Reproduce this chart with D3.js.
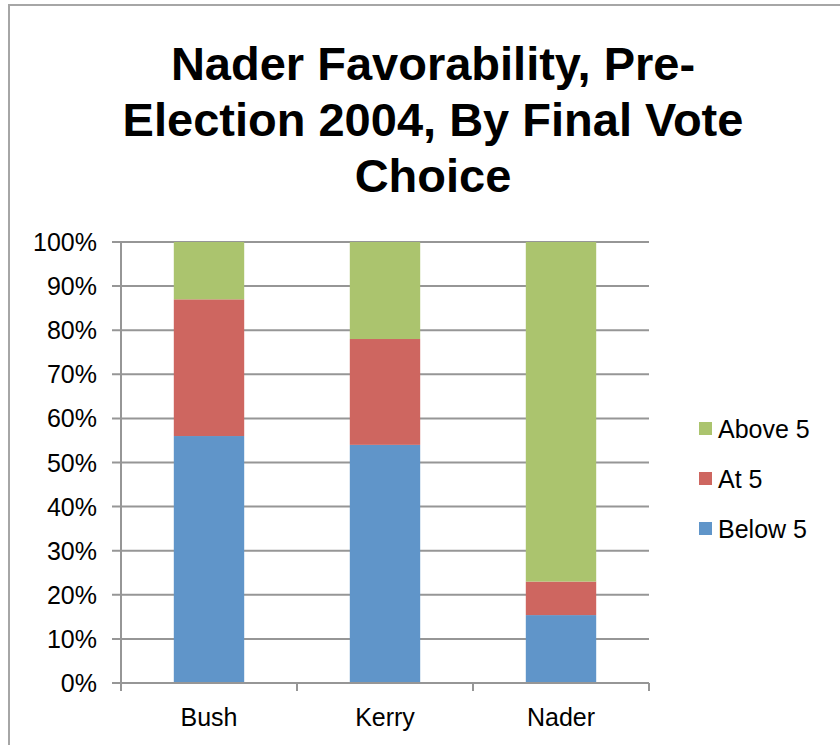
<!DOCTYPE html>
<html>
<head>
<meta charset="utf-8">
<script src="https://cdn.jsdelivr.net/npm/d3@7"></script>
<style>
  html, body { margin: 0; padding: 0; background: #fff; }
  svg { display: block; font-family: "Liberation Sans", Arial, sans-serif; }
</style>
</head>
<body>
<svg id="chart" width="840" height="745"></svg>
<script>
// Vote choice groups along the x axis
const categories = ["Bush", "Kerry", "Nader"];
// Share of each group rating Nader below, at, or above 5 (percent)
const below5 = [56, 54, 15.4];
const at5    = [31, 24, 7.6];
const above5 = [13, 22, 77];
const seriesNames = ["Below 5", "At 5", "Above 5"];
const seriesColors = ["#6095c9", "#ce6660", "#abc46e"];
const yTicks = [0, 10, 20, 30, 40, 50, 60, 70, 80, 90, 100];
const titleLines = ["Nader Favorability, Pre-", "Election 2004, By Final Vote", "Choice"];

const rows = categories.map((c, i) => ({
  cat: c, "Below 5": below5[i], "At 5": at5[i], "Above 5": above5[i]
}));

const svg = d3.select("#chart");
const grid = "#969696";

// Outer chart frame
svg.append("rect")
  .attr("x", 9).attr("y", 5).attr("width", 860).attr("height", 760)
  .attr("fill", "none").attr("stroke", "#a6a6a6").attr("stroke-width", 2);

// Title
svg.append("g").selectAll("text").data(titleLines).join("text")
  .attr("x", 433).attr("y", (d, i) => 80 + i * 56)
  .attr("text-anchor", "middle")
  .attr("font-size", 47).attr("font-weight", "bold").attr("fill", "#000")
  .text(d => d);

const plot = { left: 121, right: 649, top: 242, bottom: 683 };

const x = d3.scaleBand().domain(categories)
  .range([plot.left, plot.right]).paddingInner(0.6).paddingOuter(0.3);
const xOuter = d3.scaleBand().domain(categories).range([plot.left, plot.right]);
const y = d3.scaleLinear().domain([0, 100]).range([plot.bottom, plot.top]);

// Horizontal gridlines with tick marks to the left of the axis
svg.append("g").selectAll("line").data(yTicks).join("line")
  .attr("x1", plot.left - 9).attr("x2", plot.right)
  .attr("y1", d => y(d)).attr("y2", d => y(d))
  .attr("stroke", grid).attr("stroke-width", 2);

// Y axis labels
svg.append("g").selectAll("text").data(yTicks).join("text")
  .attr("x", 97).attr("y", d => y(d)).attr("dy", "0.36em")
  .attr("text-anchor", "end").attr("font-size", 25).attr("fill", "#000")
  .text(d => d + "%");

// Stacked bars
const stack = d3.stack().keys(seriesNames)(rows);
svg.append("g").selectAll("g").data(stack).join("g")
  .attr("fill", (d, i) => seriesColors[i])
  .selectAll("rect").data(d => d).join("rect")
  .attr("x", d => x(d.data.cat))
  .attr("width", x.bandwidth())
  .attr("y", d => y(d[1]))
  .attr("height", d => y(d[0]) - y(d[1]));

// Axis lines
svg.append("line")
  .attr("x1", plot.left).attr("x2", plot.left)
  .attr("y1", plot.top).attr("y2", plot.bottom + 8)
  .attr("stroke", grid).attr("stroke-width", 2);
svg.append("line")
  .attr("x1", plot.left - 9).attr("x2", plot.right)
  .attr("y1", plot.bottom).attr("y2", plot.bottom)
  .attr("stroke", grid).attr("stroke-width", 2);

// Category boundary ticks below the x axis
const boundaries = categories.map(c => xOuter(c)).concat([plot.right]);
svg.append("g").selectAll("line").data(boundaries).join("line")
  .attr("x1", d => d).attr("x2", d => d)
  .attr("y1", plot.bottom).attr("y2", plot.bottom + 8)
  .attr("stroke", grid).attr("stroke-width", 2);

// Category labels
svg.append("g").selectAll("text").data(categories).join("text")
  .attr("x", d => xOuter(d) + xOuter.bandwidth() / 2).attr("y", 726)
  .attr("text-anchor", "middle").attr("font-size", 25).attr("fill", "#000")
  .text(d => d);

// Legend, top entry is the top of the stack
const legendOrder = seriesNames.slice().reverse();
const legendColors = seriesColors.slice().reverse();
const lg = svg.append("g").selectAll("g").data(legendOrder).join("g")
  .attr("transform", (d, i) => `translate(699, ${422 + i * 50})`);
lg.append("rect").attr("width", 13).attr("height", 13)
  .attr("fill", (d, i) => legendColors[i]);
lg.append("text").attr("x", 19).attr("y", 7).attr("dy", "0.36em")
  .attr("font-size", 25).attr("fill", "#000").text(d => d);
</script>
</body>
</html>
